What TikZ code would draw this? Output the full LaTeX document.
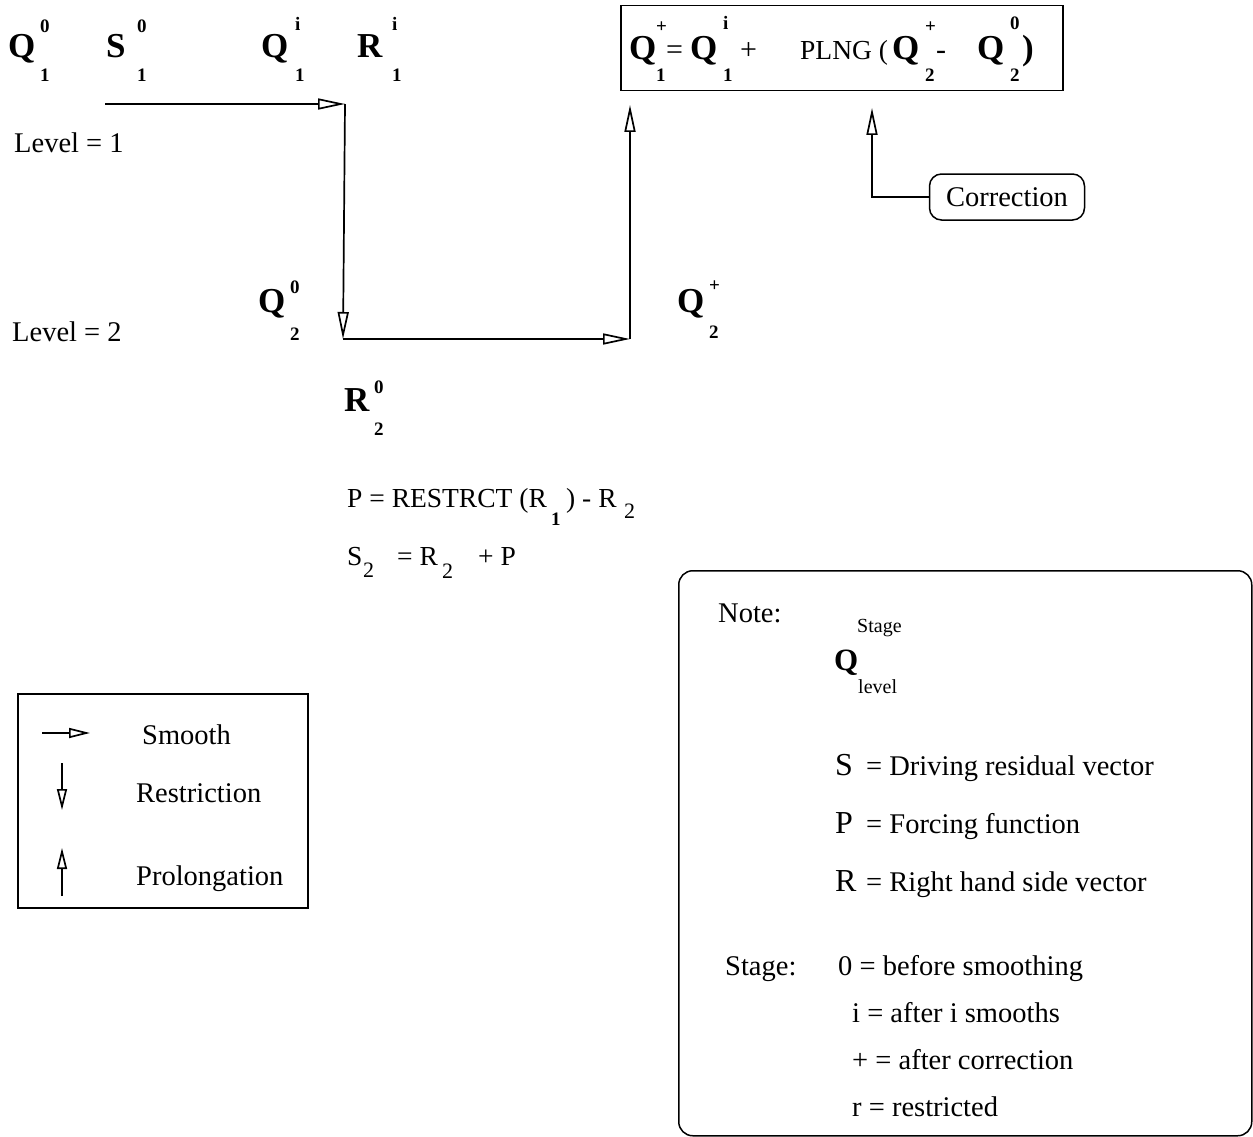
\documentclass[tikz,border=0pt]{standalone}
\usepackage{fontspec}
\setmainfont{Liberation Serif}
\usetikzlibrary{arrows.meta}
\newcommand\mgsym[9]{%
  \node[big] (#1) at (#2,#3) {#4};
  \node[idx] (#1-sup) at (#5,#6) {#7};
  \node[idx] (#1-sub) at (#5,#8) {#9};
}
\begin{document}
\begin{tikzpicture}[x=1pt,y=-1pt,
  every node/.style={inner sep=0pt, anchor=base west},
  txt/.style={font=\fontsize{28.5}{30}\selectfont},
  eqtxt/.style={font=\fontsize{27.5}{30}\selectfont},
  opr/.style={font=\fontsize{30}{32}\selectfont},
  big/.style={font=\fontsize{35}{37}\selectfont\bfseries},
  noteQ/.style={font=\fontsize{31}{33}\selectfont\bfseries},
  letter/.style={font=\fontsize{32}{34}\selectfont},
  idx/.style={font=\fontsize{19}{20}\selectfont\bfseries},
  small/.style={font=\fontsize{20}{22}\selectfont},
  sub2/.style={font=\fontsize{22}{24}\selectfont},
  flow/.style={line width=1.7pt, -{Triangle[open,length=27pt,width=11pt,line width=1.7pt]}},
  key/.style={line width=1.7pt, -{Triangle[open,length=21pt,width=10pt,line width=1.7pt]}},
  frame/.style={draw, line width=1.5pt},
]
\useasboundingbox (0,0) rectangle (1253,1137);

% ---- top row, level 1
\mgsym{Q01}{8}{58}{Q}{40}{33}{0}{82}{1}
\mgsym{S01}{106}{58}{S}{137}{33}{0}{82}{1}
\mgsym{Qi1}{261}{58}{Q}{295}{31}{i}{82}{1}
\mgsym{Ri1}{357}{58}{R}{392}{31}{i}{82}{1}

\node[txt] (lev1) at (14,153) {Level = 1};
\node[txt] (lev2) at (12,341) {Level = 2};

% ---- level 2
\mgsym{Q02}{258}{312}{Q}{290}{293}{0}{340}{2}
\mgsym{Qp2}{677}{312}{Q}{709}{291}{+}{338}{2}
\mgsym{R02}{344}{411}{R}{374}{393}{0}{435}{2}

% ---- formulas
\node[eqtxt] (pl1) at (347,507) {P = RESTRCT (R};
\node[idx] (pl2) at (551,525) {1};
\node[eqtxt] (pl3) at (566,507) {) - R};
\node[sub2] (pl4) at (624,518) {2};

\node[eqtxt] (sl1) at (347,565) {S};
\node[sub2] (sl2) at (363,577) {2};
\node[eqtxt] (sl3) at (397,565) {= R};
\node[sub2] (sl4) at (442,578) {2};
\node[eqtxt] (sl5) at (478,565) {+ P};

% ---- equation box
\node[frame, anchor=north west, minimum width=442pt, minimum height=85pt] (eqbox) at (620,5) {};
\mgsym{eQ1}{629}{60}{Q}{656}{33}{+}{82}{1}
\node[opr] (eeq) at (666,60) {=};
\mgsym{eQ2}{690}{60}{Q}{723}{30}{i}{82}{1}
\node[opr] (eplus) at (740,60) {+};
\node[eqtxt] (eplng) at (800,60) {PLNG (};
\mgsym{eQ3}{892}{60}{Q}{925}{33}{+}{82}{2}
\node[opr] (emin) at (936,60) {-};
\mgsym{eQ4}{977}{60}{Q}{1010}{30}{0}{82}{2}
\node[big] (epar) at (1022,60) {)};

% ---- flow connectors
\coordinate (s0) at (105,104);
\coordinate (s1) at (345,104);
\coordinate (r1) at (343,339);
\coordinate (p1) at (630,339);
\coordinate (p2) at (630,105);
\draw[flow] (s0) -- (s1);
\draw[flow] (s1) -- (r1);
\draw[flow] (r1) -- (p1);
\draw[flow] (p1) -- (p2);

% ---- correction
\node[frame, txt, rounded corners=12pt, anchor=center, minimum width=155pt, minimum height=46pt] (corr) at (1007,197) {Correction};
\coordinate (cup) at (872,108);
\draw[flow] (corr.west) -| (cup);

% ---- legend
\node[frame, anchor=north west, minimum width=290pt, minimum height=214pt] (legend) at (17,693) {};
\coordinate (ks0) at (42,733);
\coordinate (ks1) at (90,733);
\coordinate (kr0) at (62,763);
\coordinate (kr1) at (62,810);
\coordinate (kp0) at (62,896);
\coordinate (kp1) at (62,848);
\draw[key] (ks0) -- (ks1);
\draw[key] (kr0) -- (kr1);
\draw[key] (kp0) -- (kp1);
\node[txt] (ksmooth) at (142,744) {Smooth};
\node[txt] (krestr) at (136,802) {Restriction};
\node[txt] (kprol) at (136,885) {Prolongation};

% ---- note box
\node[frame, rounded corners=14pt, anchor=north west, minimum width=573pt, minimum height=565pt] (note) at (678,570) {};
\node[txt] (nnote) at (718,622) {Note:};
\node[small] (nstage) at (857,632) {Stage};
\node[noteQ] (nQ) at (834,670) {Q};
\node[small] (nlevel) at (858,693) {level};
\node[letter] (nS) at (835,775) {S};
\node[txt] (nSt) at (866,775) {= Driving residual vector};
\node[letter] (nP) at (835,833) {P};
\node[txt] (nPt) at (866,833) {= Forcing function};
\node[letter] (nR) at (835,891) {R};
\node[txt] (nRt) at (866,891) {= Right hand side vector};
\node[txt] (nst) at (725,975) {Stage:};
\node[txt] (n0) at (838,975) {0 = before smoothing};
\node[txt] (ni) at (852,1022) {i = after i smooths};
\node[txt] (np) at (852,1069) {+ = after correction};
\node[txt] (nr) at (852,1116) {r = restricted};
\end{tikzpicture}
\end{document}
